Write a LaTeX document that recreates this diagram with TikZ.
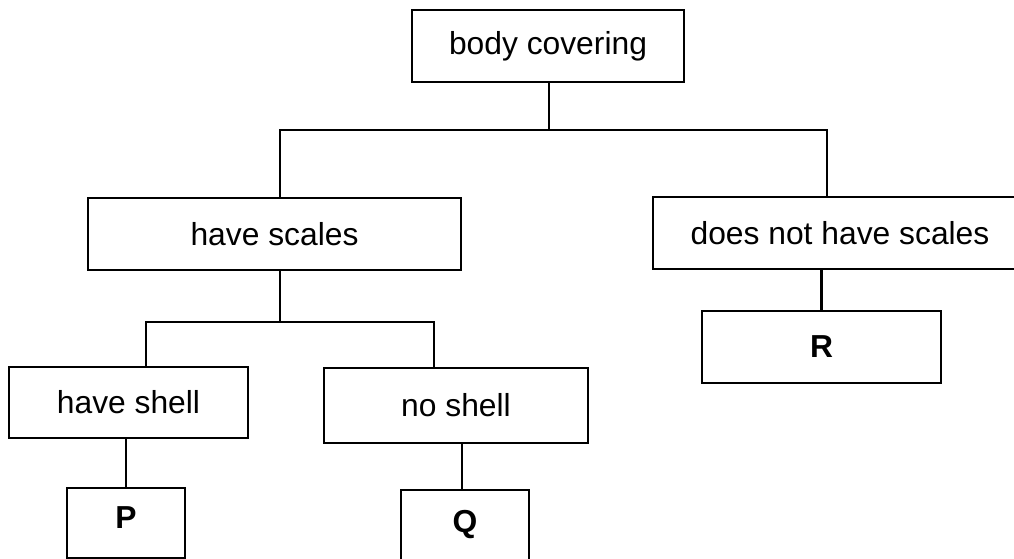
\documentclass[tikz,border=0pt]{standalone}
\usepackage{fontspec}
\setmainfont{Liberation Sans}
\begin{document}
\begin{tikzpicture}[x=1pt,y=-1pt,
  box/.style={draw, rectangle, line width=2.8pt, inner sep=0pt,
    font=\fontsize{31.8}{38}\selectfont},
  leaf/.style={box, font=\fontsize{31.8}{38}\selectfont\bfseries},
  link/.style={line width=2.8pt}]
\useasboundingbox (0,0) rectangle (1014,559);

% decision boxes
\node[box, minimum width=272, minimum height=72] (body) at (548,46) {body covering};
\node[box, minimum width=373, minimum height=72] (hs) at (274.5,234) {have scales};
\node[box, minimum width=374, minimum height=72] (dn) at (840,233) {does not have scales};
\node[box, minimum width=239, minimum height=71] (hsh) at (128.5,402.5) {have shell};
\node[box, minimum width=264, minimum height=75] (ns) at (456,405.5) {no shell};

% result boxes
\node[leaf, minimum width=239, minimum height=72] (R) at (821.5,347) {R};
\node[leaf, minimum width=118, minimum height=70, text depth=10pt] (P) at (126,523) {P};
\node[leaf, minimum width=128, minimum height=76, text depth=14pt] (Q) at (465,528) {Q};

% branching points
\coordinate (j1) at (549,130);
\coordinate (barL) at (280,130);
\coordinate (barR) at (827,130);
\coordinate (j2) at (280,322);
\coordinate (bar2L) at (146,322);
\coordinate (bar2R) at (434,322);
\coordinate (qx) at (462,0);

% connectors
\draw[link] (body.south -| j1) -- (j1);
\draw[link] (hs.north -| barL) -- (barL) -- (barR) -- (dn.north -| barR);
\draw[link] (hs.south -| j2) -- (j2);
\draw[link] (hsh.north -| bar2L) -- (bar2L) -- (bar2R) -- (ns.north -| bar2R);
\draw[link] (R.north) -- (R.north |- dn.south);
\draw[link] (P.north) -- (P.north |- hsh.south);
\draw[link] (Q.north -| qx) -- (ns.south -| qx);
\end{tikzpicture}
\end{document}
